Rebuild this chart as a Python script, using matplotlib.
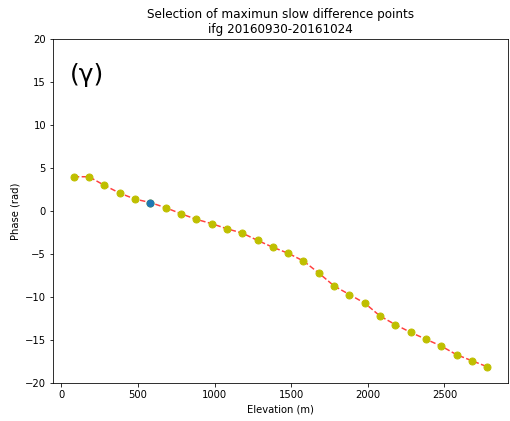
import numpy as np
import matplotlib.pyplot as plt

# Phase vs elevation samples for one interferogram
elevation = np.arange(80, 2781, 100)
phase = [4.0, 4.0, 3.0, 2.1, 1.4, 1.0, 0.4, -0.3, -0.95, -1.45,
         -2.05, -2.55, -3.4, -4.2, -4.9, -5.8, -7.2, -8.7, -9.7, -10.7,
         -12.2, -13.2, -14.1, -14.9, -15.7, -16.7, -17.4, -18.1]
selected = 5  # index of the reference point

fig = plt.figure(figsize=(510 / 72, 421 / 72), dpi=72)
ax = fig.add_axes([0.104, 0.090, 0.892, 0.817])

ax.plot(elevation, phase, 'r--', alpha=0.75, zorder=1)
ax.plot(elevation, phase, 'yo', markersize=7, zorder=2)
ax.plot(elevation[selected], phase[selected], 'o', color='C0', markersize=7, zorder=3)

ax.set_ylim(-20, 20)
ax.set_xlabel('Elevation (m)')
ax.set_ylabel('Phase (rad)')
ax.set_title('Selection of maximun slow difference points\nifg 20160930-20161024')
ax.text(0.037, 0.93, '(γ)', transform=ax.transAxes, fontsize=25, va='top')

fig.savefig('out.png', dpi=72)
